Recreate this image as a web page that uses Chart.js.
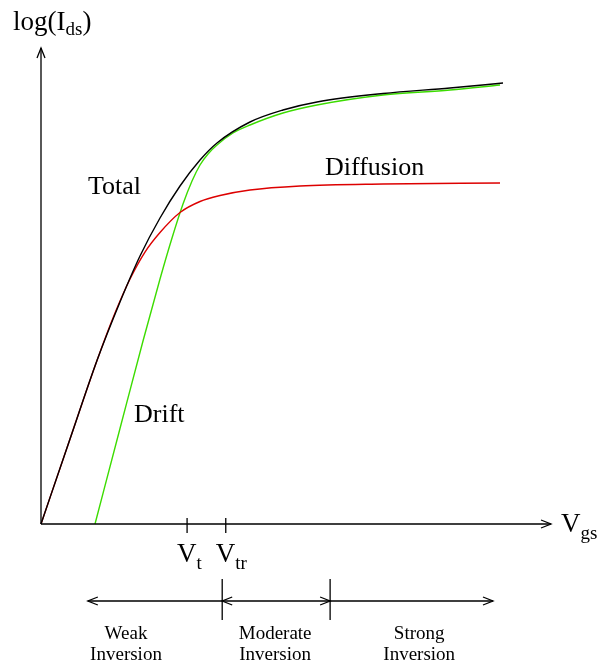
<!DOCTYPE html>
<html>
<head>
<meta charset="utf-8">
<script src="https://cdn.jsdelivr.net/npm/chart.js@4"></script>
<style>
  body { margin: 0; background: #fff; }
  #box { width: 598px; height: 667px; position: relative; }
</style>
</head>
<body>
<div id="box"><canvas id="grafico"></canvas></div>
<script>
// curvas (unidades arbitrarias: Vgs 0..10, log(Ids) 0..10)
const xTotal = [0, 0.570, 1.100, 1.552, 1.945, 2.338, 2.731, 3.124, 3.458, 4.106, 4.754, 5.422, 6.719, 8.035, 9.077];
const yTotal = [0, 1.793, 3.449, 4.684, 5.654, 6.456, 7.131, 7.679, 8.038, 8.481, 8.734, 8.903, 9.082, 9.198, 9.304];

const xDiffusion = [0, 0.570, 1.100, 1.454, 1.749, 2.043, 2.338, 2.731, 3.124, 3.517, 4.106, 5.088, 6.719, 9.018];
const yDiffusion = [0, 1.793, 3.449, 4.451, 5.169, 5.738, 6.150, 6.572, 6.804, 6.930, 7.046, 7.131, 7.173, 7.194];

const xDrift = [1.061, 1.552, 2.004, 2.338, 2.574, 2.790, 2.967, 3.124, 3.281, 3.458, 3.772, 4.106, 4.754, 5.422, 6.719, 8.035, 9.018];
const yDrift = [0, 2.015, 3.861, 5.169, 6.034, 6.751, 7.236, 7.574, 7.806, 7.996, 8.249, 8.418, 8.671, 8.840, 9.051, 9.156, 9.262];

// marcas no eixo Vgs
const tickValues = [2.87, 3.63];
const tickMain = ['V', 'V'];
const tickSub = ['t', 'tr'];

// regioes de inversao
const regionEdges = [0.92, 3.56, 5.68, 8.88];
const regionCenters = [1.67, 4.60, 7.43];
const regionNames = [['Weak', 'Inversion'], ['Moderate', 'Inversion'], ['Strong', 'Inversion']];

const SERIF = '"Liberation Serif", "DejaVu Serif", serif';

function pontos(xs, ys) {
  return xs.map((x, i) => ({ x: x, y: ys[i] }));
}

function textoSub(ctx, main, sub, x, y, size, subSize, drop) {
  ctx.font = size + 'px ' + SERIF;
  ctx.fillText(main, x, y);
  let w = ctx.measureText(main).width;
  ctx.font = subSize + 'px ' + SERIF;
  ctx.fillText(sub, x + w, y + drop);
  return x + w + ctx.measureText(sub).width;
}

function seta(ctx, x, y, dir) {
  // dir: 'left' | 'right' | 'up'
  ctx.beginPath();
  if (dir === 'left') {
    ctx.moveTo(x + 10, y - 4); ctx.lineTo(x, y); ctx.lineTo(x + 10, y + 4);
  } else if (dir === 'right') {
    ctx.moveTo(x - 10, y - 4); ctx.lineTo(x, y); ctx.lineTo(x - 10, y + 4);
  } else {
    ctx.moveTo(x - 4, y + 10); ctx.lineTo(x, y); ctx.lineTo(x + 4, y + 10);
  }
  ctx.stroke();
}

const desenhoExtra = {
  id: 'desenhoExtra',
  afterDraw(chart) {
    const ctx = chart.ctx;
    const xs = chart.scales.x;
    const ys = chart.scales.y;
    const x0 = xs.getPixelForValue(0);
    const y0 = ys.getPixelForValue(0);
    ctx.save();
    ctx.strokeStyle = '#000';
    ctx.fillStyle = '#000';
    ctx.lineWidth = 1.3;

    // eixos
    ctx.beginPath();
    ctx.moveTo(x0, y0); ctx.lineTo(x0, 48);
    ctx.moveTo(x0, y0); ctx.lineTo(551, y0);
    ctx.stroke();
    seta(ctx, x0, 48, 'up');
    seta(ctx, 551, y0, 'right');

    // titulos dos eixos
    ctx.textAlign = 'left';
    ctx.textBaseline = 'alphabetic';
    let fim = textoSub(ctx, 'log(I', 'ds', 13, 30, 27, 19, 5);
    ctx.font = '27px ' + SERIF;
    ctx.fillText(')', fim, 30);
    textoSub(ctx, 'V', 'gs', 561, 532, 27, 19, 7);

    // marcas Vt, Vtr
    tickValues.forEach((v, i) => {
      const px = xs.getPixelForValue(v);
      ctx.beginPath();
      ctx.moveTo(px, y0 - 6); ctx.lineTo(px, y0 + 9);
      ctx.stroke();
      textoSub(ctx, tickMain[i], tickSub[i], px - 10, 562, 27, 19, 7);
    });

    // rotulos das curvas
    ctx.font = '26px ' + SERIF;
    ctx.fillText('Total', 88, 194);
    ctx.fillText('Diffusion', 325, 175);
    ctx.fillText('Drift', 134, 422);

    // regioes
    const ya = 601;
    const pe = regionEdges.map(v => xs.getPixelForValue(v));
    ctx.beginPath();
    ctx.moveTo(pe[0], ya); ctx.lineTo(pe[3], ya);
    ctx.moveTo(pe[1], 579); ctx.lineTo(pe[1], 620);
    ctx.moveTo(pe[2], 579); ctx.lineTo(pe[2], 620);
    ctx.stroke();
    seta(ctx, pe[0], ya, 'left');
    seta(ctx, pe[1], ya, 'left');
    seta(ctx, pe[2], ya, 'right');
    seta(ctx, pe[3], ya, 'right');

    ctx.textAlign = 'center';
    ctx.font = '19px ' + SERIF;
    regionNames.forEach((nome, i) => {
      const cx = xs.getPixelForValue(regionCenters[i]);
      ctx.fillText(nome[0], cx, 639);
      ctx.fillText(nome[1], cx, 660);
    });
    ctx.restore();
  }
};

new Chart(document.getElementById('grafico'), {
  type: 'scatter',
  data: {
    datasets: [
      { label: 'Total', data: pontos(xTotal, yTotal), borderColor: '#000000' },
      { label: 'Diffusion', data: pontos(xDiffusion, yDiffusion), borderColor: '#dd0000' },
      { label: 'Drift', data: pontos(xDrift, yDrift), borderColor: '#3cdc00' }
    ].map(d => Object.assign(d, {
      showLine: true,
      pointRadius: 0,
      borderWidth: 1.4,
      cubicInterpolationMode: 'monotone',
      clip: false
    }))
  },
  options: {
    responsive: true,
    maintainAspectRatio: false,
    animation: false,
    layout: { padding: { left: 41, top: 50, right: 48, bottom: 143 } },
    plugins: { legend: { display: false }, tooltip: { enabled: false } },
    scales: {
      x: { type: 'linear', min: 0, max: 10, display: false },
      y: { type: 'linear', min: 0, max: 10, display: false }
    }
  },
  plugins: [desenhoExtra]
});
</script>
</body>
</html>
